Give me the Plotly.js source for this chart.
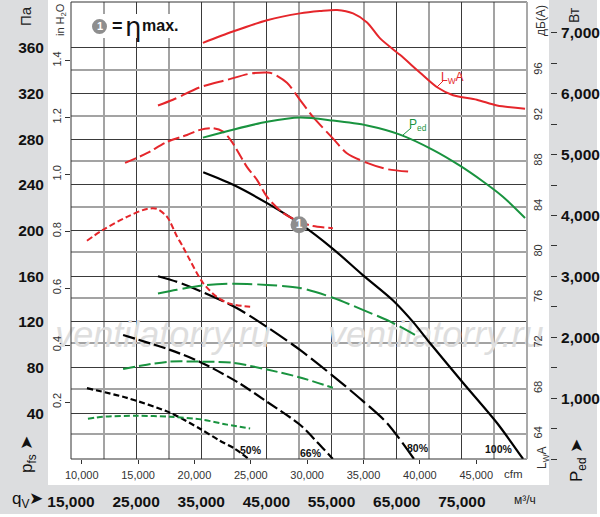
<!DOCTYPE html>
<html>
<head>
<meta charset="utf-8">
<script src="https://cdn.plot.ly/plotly-3.0.1.min.js"></script>
<style>html,body{margin:0;padding:0;background:#fff;}#chart{width:600px;height:517px;}</style>
</head>
<body>
<div id="chart"></div>
<script>
// ---------- data ----------
// axis ticks
const m3hTicks = [15000, 25000, 35000, 45000, 55000, 65000, 75000];
const m3hMinor = [20000, 30000, 40000, 50000, 60000, 70000, 80000];
const cfmTicks = [10000, 15000, 20000, 25000, 30000, 35000, 40000, 45000];
const paTicks = [40, 80, 120, 160, 200, 240, 280, 320, 360];
const inTicks = [0.2, 0.4, 0.6, 0.8, 1.0, 1.2, 1.4];
const dbTicks = [64, 68, 72, 76, 80, 84, 88, 92, 96];
const wTicks = [1000, 2000, 3000, 4000, 5000, 6000, 7000];
const wMinor = [0, 500, 1500, 2500, 3500, 4500, 5500, 6500];

// static pressure p_fs (Pa) vs q_V (m3/h)
const pfsX100 = [35300, 39900, 45100, 50150, 55200, 59800, 64400, 67500, 70100, 75200, 80400, 84400];
const pfs100  = [251, 240, 224, 206, 184, 161, 139, 120, 101.5, 66.5, 31.5, 0];
const pfsX80  = [28350, 31300, 35250, 40500, 45100, 50150, 55050, 59650, 63500, 67650];
const pfs80   = [160, 155, 146, 132, 115.5, 95.5, 73.5, 51.5, 31.5, 0];
const pfsX66  = [23000, 30200, 34800, 40500, 45100, 50150, 52750, 55200];
const pfs66   = [108.5, 95.5, 85, 67.5, 50, 30, 15, 0];
const pfsX50  = [17450, 23600, 30200, 34800, 37850, 40000, 42300];
const pfs50   = [62, 53.5, 40.5, 26.5, 16, 9.5, 0];

// power input P_ed (W)
const pedX100 = [35250, 39850, 45100, 50150, 55200, 60450, 65500, 70550, 74700, 78250, 81300, 84700];
const ped100  = [5280, 5410, 5540, 5610, 5560, 5480, 5330, 5080, 4820, 4560, 4310, 3960];
const pedX80  = [28350, 31250, 35250, 39850, 45100, 50150, 55200, 59800, 63950, 67800];
const ped80   = [2720, 2780, 2850, 2880, 2860, 2810, 2650, 2450, 2260, 2040];
const pedX66  = [23000, 26650, 30200, 34800, 39850, 45100, 50150, 55200];
const ped66   = [1480, 1550, 1600, 1600, 1580, 1470, 1340, 1170];
const pedX50  = [17600, 19900, 25150, 30200, 35250, 38950, 42500];
const ped50   = [660, 695, 710, 695, 645, 565, 500];

// sound power L_WA (dB(A))
const lwaX100 = [35250, 39850, 45100, 50150, 53200, 55850, 58300, 60450, 62450, 65500, 68550, 71200, 73650, 77300, 80400, 84700];
const lwa100  = [98.4, 99.4, 100.4, 101.0, 101.2, 101.3, 101.0, 100.2, 98.8, 97.35, 95.8, 94.5, 93.8, 93.4, 92.9, 92.6];
const lwaX80  = [28350, 30650, 34800, 38950, 42500, 45100, 46000, 48150, 50150, 52150, 55200, 57350, 60450, 63500, 67500];
const lwa80   = [92.9, 93.4, 94.5, 95.15, 95.7, 95.8, 95.7, 94.9, 93.4, 91.9, 90.0, 88.7, 87.85, 87.3, 87.05];
const lwaX66  = [23300, 26650, 29750, 32800, 34800, 36800, 38350, 39700, 42000, 43550, 45100, 47550, 50150, 52150, 55200];
const lwa66   = [87.85, 88.7, 89.7, 90.3, 90.75, 90.9, 90.6, 89.7, 87.5, 86.35, 84.85, 83.45, 82.65, 82.3, 82.1];
const lwaX50  = [17450, 19900, 23600, 26650, 28200, 29750, 31250, 32200, 33250, 35250, 37400, 39400, 42500];
const lwa50   = [81.0, 81.95, 83.1, 83.8, 83.8, 83.1, 81.4, 80.45, 79.3, 77.3, 76.05, 75.45, 75.2];

// point of maximum efficiency
const etaX = [50000];
const etaY = [205];

// watermark
const wmX = [29100, 71000];
const wmY = [106, 106];
const wmText = ['ventilatorry.ru', 'ventilatorry.ru'];

// ---------- styling ----------
const SANS = "'Liberation Sans', Arial, sans-serif";
const RED = '#e5262b', GREEN = '#19933f', BLACK = '#000000';
const DASH = {100: 'solid', 80: '20px,5px', 66: '12px,4px', 50: '6px,3px'};

const Wd = 600, Ht = 517, ML = 48, MR = 50, MT = 2, MB = 58;
const PW = Wd - ML - MR, PH = Ht - MT - MB;
const px = p => (p - ML) / PW;          // pixel x -> paper
const py = p => (Ht - MB - p) / PH;     // pixel y -> paper
const xDom = [px(71), px(527)];

function line(x, y, yaxis, color, dash, w) {
  return {x: x, y: y, yaxis: yaxis, xaxis: 'x', mode: 'lines', hoverinfo: 'skip',
          line: {color: color, width: w || 2, dash: dash, shape: 'spline', smoothing: 0.8}};
}

const traces = [
  {x: wmX, y: wmY, text: wmText, mode: 'text', xaxis: 'x', yaxis: 'y', cliponaxis: false, hoverinfo: 'skip',
   textfont: {family: SANS, size: 36, color: '#dedede', style: 'italic'}},
  {x: cfmTicks, y: cfmTicks.map(() => null), xaxis: 'x2', yaxis: 'y', mode: 'markers', hoverinfo: 'skip'},
  {x: inTicks.map(() => null), y: inTicks, xaxis: 'x', yaxis: 'y2', mode: 'markers', hoverinfo: 'skip'},
  line(pfsX50, pfs50, 'y', BLACK, DASH[50], 2.2),
  line(pfsX66, pfs66, 'y', BLACK, DASH[66], 2.2),
  line(pfsX80, pfs80, 'y', BLACK, DASH[80], 2.2),
  line(pfsX100, pfs100, 'y', BLACK, DASH[100], 2.2),
  line(lwaX50, lwa50, 'y3', RED, DASH[50]),
  line(lwaX66, lwa66, 'y3', RED, DASH[66]),
  line(lwaX80, lwa80, 'y3', RED, DASH[80]),
  line(lwaX100, lwa100, 'y3', RED, DASH[100]),
  line(pedX50, ped50, 'y4', GREEN, DASH[50]),
  line(pedX66, ped66, 'y4', GREEN, DASH[66]),
  line(pedX80, ped80, 'y4', GREEN, DASH[80]),
  line(pedX100, ped100, 'y4', GREEN, DASH[100]),
  {x: etaX, y: etaY, xaxis: 'x', yaxis: 'y5', mode: 'markers+text', text: ['1'], textposition: 'middle center',
   hoverinfo: 'skip', marker: {size: 17, color: '#8e8e8e', line: {width: 0}},
   textfont: {family: SANS, size: 12, color: '#ffffff', weight: 700}}
];

const small = {family: SANS, size: 11, color: '#333333'};
const big = {family: SANS, size: 15.5, color: '#111111', weight: 700};

const layout = {
  width: Wd, height: Ht,
  margin: {l: ML, r: MR, t: MT, b: MB, pad: 0},
  paper_bgcolor: '#ffffff', plot_bgcolor: '#ffffff',
  showlegend: false,
  xaxis: {domain: xDom, range: [15000, 85000], anchor: 'y', tickmode: 'array', tickvals: m3hTicks,
          tickformat: ',', ticks: '', showline: false, zeroline: false,
          showgrid: true, gridcolor: '#3a3a3a', gridwidth: 1,
          minor: {tickmode: 'array', tickvals: m3hMinor, showgrid: true, gridcolor: '#a3a3a3', gridwidth: 2, ticks: ''},
          tickfont: big, ticklabelstandoff: 31},
  xaxis2: {overlaying: 'x', anchor: 'y', side: 'bottom', range: [9050, 49500], tickmode: 'array', tickvals: cfmTicks,
           tickformat: ',', ticks: 'outside', ticklen: 4, tickcolor: '#333', showgrid: false, zeroline: false,
           showline: false, tickfont: small, ticklabelstandoff: 2},
  yaxis: {domain: [0, 1], range: [0, 400], anchor: 'free', position: 0, side: 'left', tickmode: 'array', tickvals: paTicks,
          ticks: '', showline: false, zeroline: false, showgrid: true, gridcolor: '#3a3a3a', gridwidth: 1,
          tickfont: big, ticklabelstandoff: 4},
  yaxis2: {overlaying: 'y', anchor: 'x', side: 'left', range: [0, 400 / 249.09], tickmode: 'array', tickvals: inTicks,
           tickformat: '.1f', tickangle: -90, ticks: 'outside', ticklen: 5, tickcolor: '#333', showgrid: false,
           zeroline: false, showline: false, tickfont: small},
  yaxis3: {overlaying: 'y', anchor: 'x', side: 'right', range: [61.8, 102.0], tickmode: 'array', tickvals: dbTicks,
           tickangle: -90, ticks: '', showgrid: true, gridcolor: '#a3a3a3', gridwidth: 2, zeroline: false,
           showline: false, tickfont: small, ticklabelstandoff: 3},
  yaxis4: {overlaying: 'y', anchor: 'free', position: 1, side: 'right', range: [0, 7508], tickmode: 'array', tickvals: wTicks,
           tickformat: ',', ticks: 'outside', ticklen: 6, tickcolor: '#333', showgrid: false, zeroline: false,
           showline: false, tickfont: big, ticklabelstandoff: 1,
           minor: {tickmode: 'array', tickvals: wMinor, ticks: 'outside', ticklen: 6, tickcolor: '#333', showgrid: false}},
  yaxis5: {overlaying: 'y', anchor: 'x', range: [0, 400], visible: false},
  shapes: [
    // grey frame panels
    {type: 'rect', xref: 'paper', yref: 'paper', layer: 'below', x0: px(0), x1: px(48), y0: py(514), y1: py(0),
     fillcolor: '#dcdddf', line: {width: 0}},
    {type: 'rect', xref: 'paper', yref: 'paper', layer: 'below', x0: px(549), x1: px(597), y0: py(514), y1: py(0),
     fillcolor: '#dcdddf', line: {width: 0}},
    {type: 'rect', xref: 'paper', yref: 'paper', layer: 'below', x0: px(0), x1: px(597), y0: py(514), y1: py(485),
     fillcolor: '#dcdddf', line: {width: 0}},
    // plot border
    {type: 'line', xref: 'x domain', yref: 'paper', x0: 0, x1: 0, y0: 0, y1: 1, line: {color: '#333', width: 1}},
    {type: 'line', xref: 'x domain', yref: 'paper', x0: 0, x1: 1, y0: 0, y1: 0, line: {color: '#333', width: 1.2}},
    {type: 'line', xref: 'x domain', yref: 'paper', x0: 0, x1: 1, y0: 1, y1: 1, line: {color: '#333', width: 1}},
    {type: 'line', xref: 'x domain', yref: 'paper', x0: 1, x1: 1, y0: 0, y1: 1, line: {color: '#a9a9a9', width: 2}},
    // legend box for eta max
    {type: 'rect', xref: 'paper', yref: 'paper', layer: 'above', x0: px(86), x1: px(181), y0: py(38), y1: py(14),
     fillcolor: '#ffffff', line: {width: 0}},
    {type: 'circle', xref: 'paper', yref: 'paper', layer: 'above', x0: px(92), x1: px(107), y0: py(34), y1: py(19),
     fillcolor: '#8e8e8e', line: {width: 0}},
    // leader ticks for curve labels
    {type: 'line', xref: 'paper', yref: 'paper', x0: px(437), x1: px(443), y0: py(87), y1: py(81), line: {color: RED, width: 1}},
    {type: 'line', xref: 'paper', yref: 'paper', x0: px(403), x1: px(411), y0: py(135), y1: py(128), line: {color: GREEN, width: 1}}
  ],
  annotations: []
};

function ann(text, x, y, font, opts) {
  layout.annotations.push(Object.assign({text: text, xref: 'paper', yref: 'paper', x: px(x), y: py(y),
    showarrow: false, xanchor: 'center', yanchor: 'middle', font: font}, opts || {}));
}
const f = (size, color, weight, family) => ({family: family || SANS, size: size, color: color || '#222', weight: weight || 400});

ann('Па', 26, 16, f(15, '#222'), {textangle: -90});
ann('in H<sub>2</sub>O', 61, 20, f(11, '#333'), {textangle: -90});
ann('p<sub>fs</sub> ➤', 28, 455, f(17, '#111'), {textangle: -90});
ann('q<sub>V</sub>➤', 27, 500, f(17, '#111'));
ann('м³/ч', 525, 500, f(12, '#222'));
ann('cfm', 513, 474, f(11.5, '#333'));
ann('дБ(А)', 541, 21, f(12, '#333'), {textangle: -90});
ann('Вт', 574, 15, f(14, '#222'), {textangle: -90});
ann('L<sub>W</sub>A', 543, 458, f(12, '#333'), {textangle: -90});
ann('P<sub>ed</sub> ➤', 578, 461, f(17, '#111'), {textangle: -90});
ann('L<sub>W</sub>A', 452, 78, f(12, RED));
ann('P<sub>ed</sub>', 418, 125, f(12, GREEN));
ann('50%', 251, 450, f(10.5, '#111', 700));
ann('66%', 311, 453, f(10.5, '#111', 700));
ann('80%', 418, 448, f(10.5, '#111', 700));
ann('100%', 499, 449, f(10.5, '#111', 700));
ann('1', 99.5, 26.5, f(11, '#ffffff', 700));
ann('=', 117.5, 26, f(18, '#111', 700));
ann('η', 132.5, 27, f(26, '#111', 400, "'DejaVu Sans', sans-serif"));
ann('max.', 160, 26, f(16, '#111', 700));

Plotly.newPlot('chart', traces, layout, {staticPlot: true, displayModeBar: false});
</script>
</body>
</html>
